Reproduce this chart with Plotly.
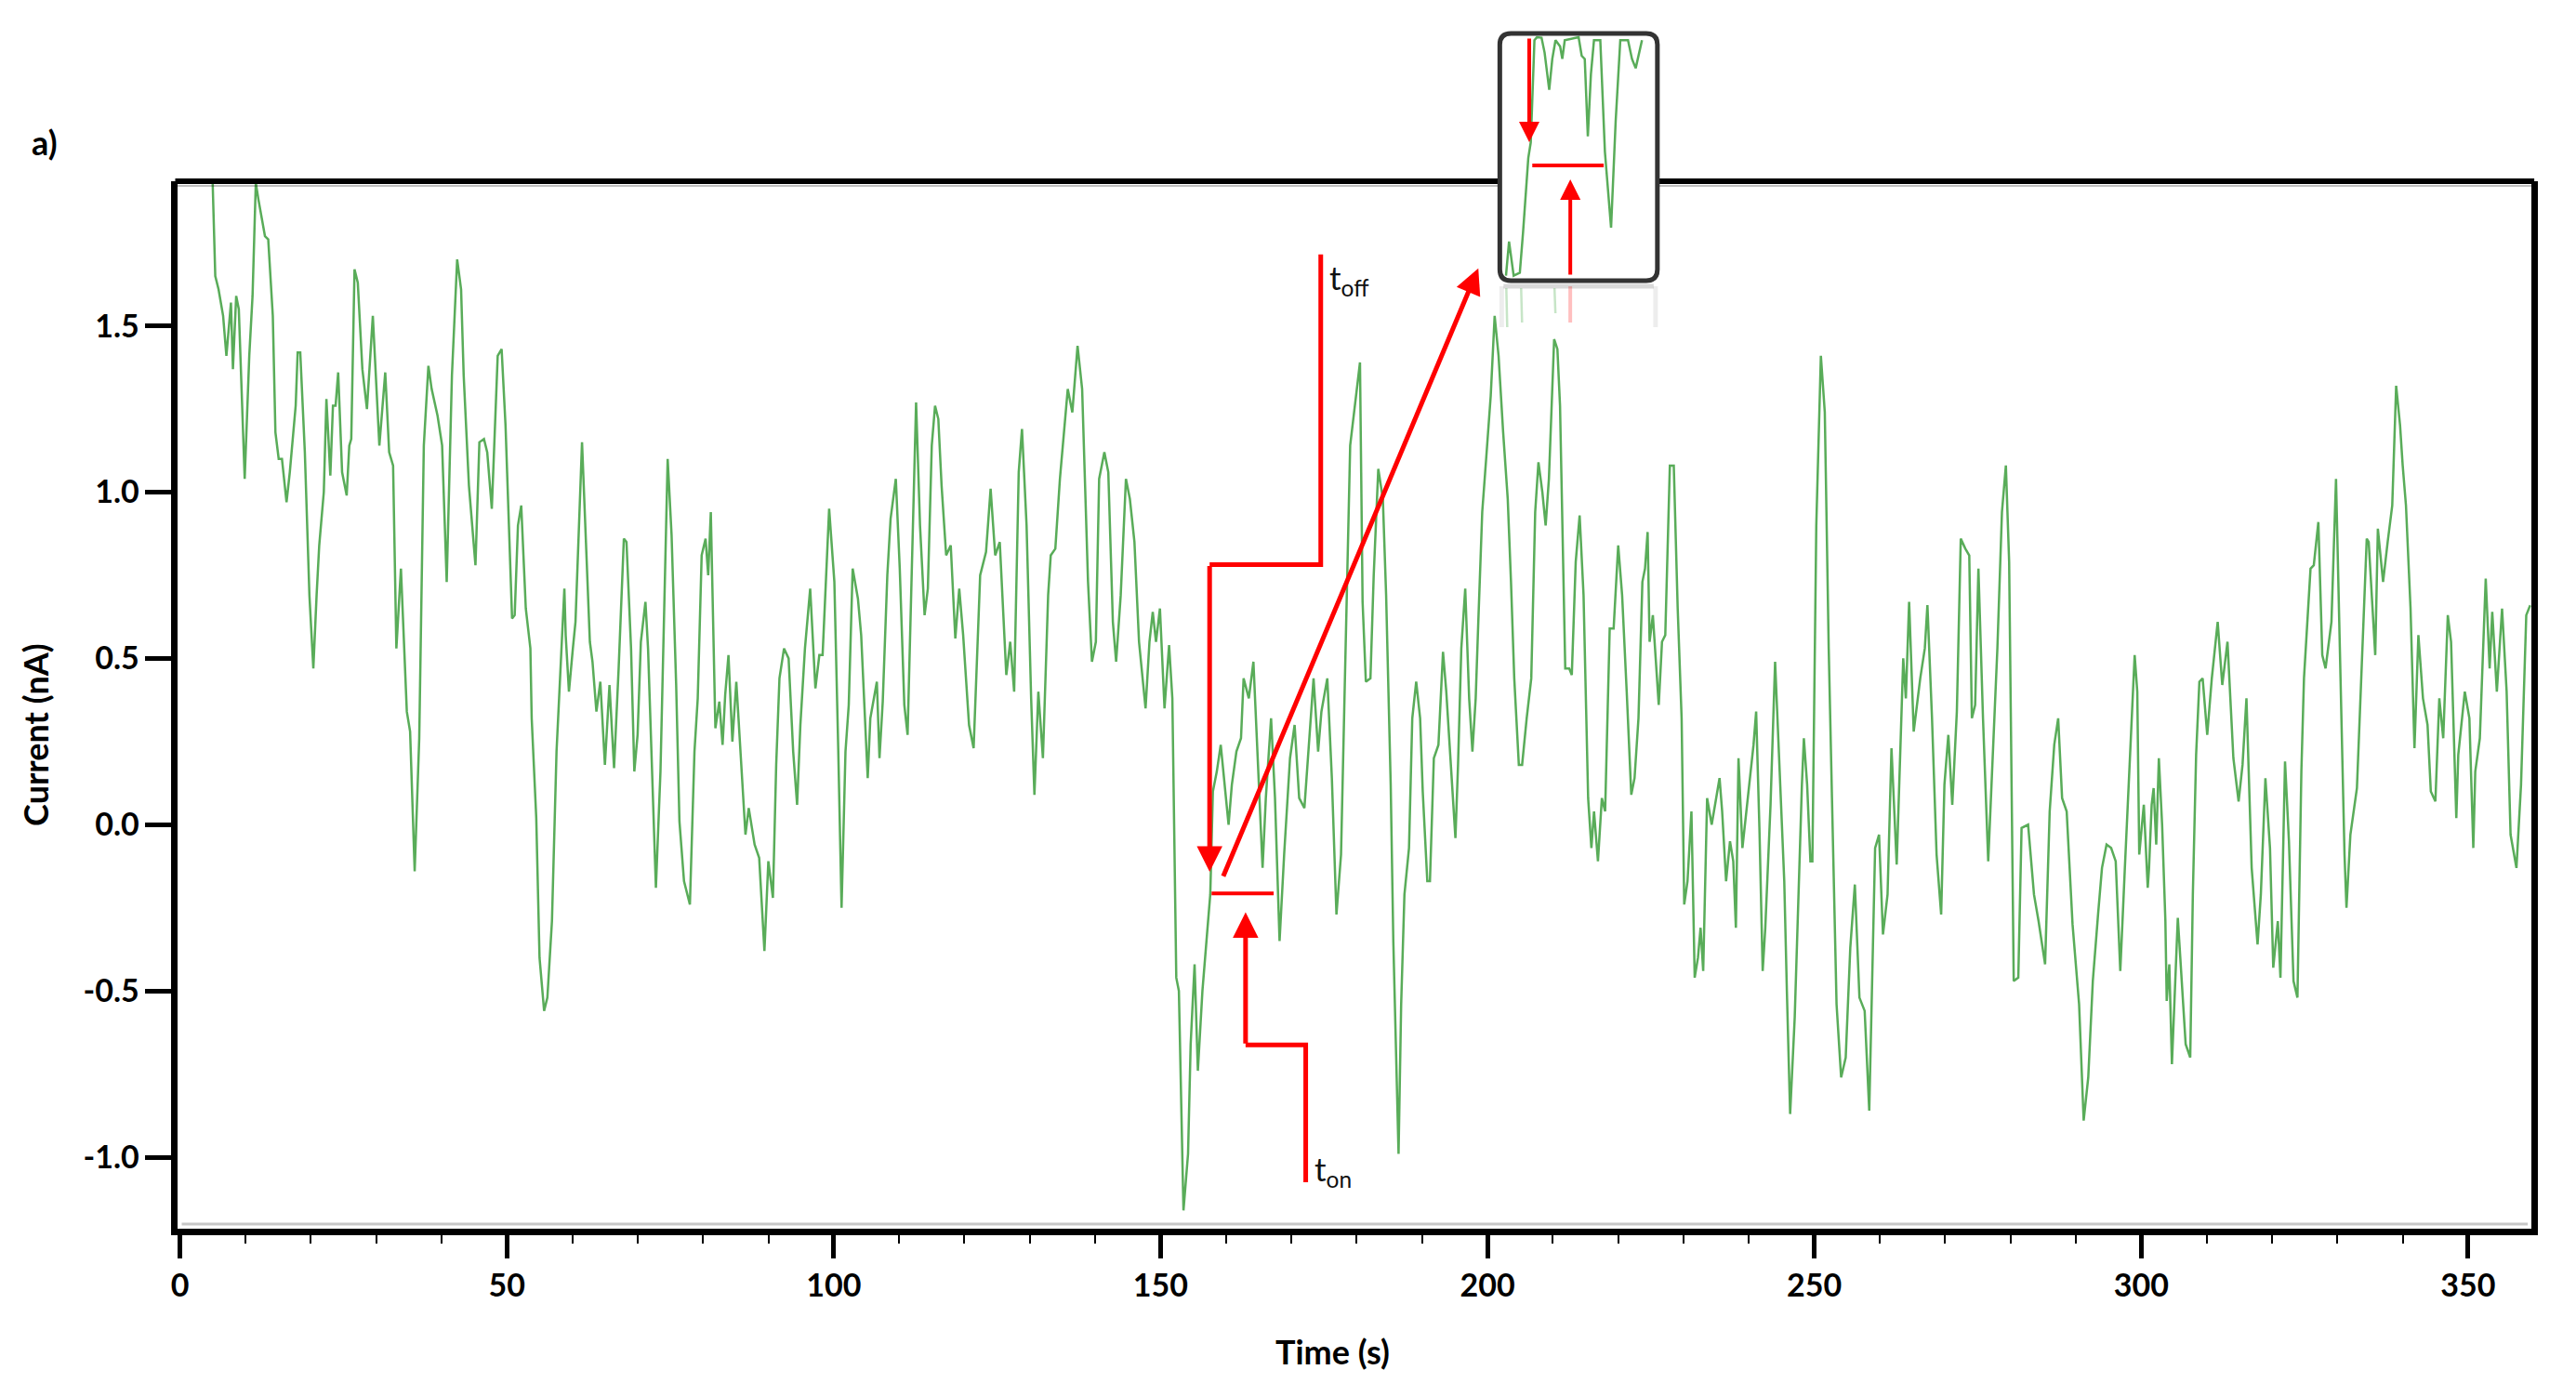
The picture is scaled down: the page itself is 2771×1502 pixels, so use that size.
import plotly.graph_objects as go

W, H = 2771, 1502          # browser window
PAGE_OFF = 8               # default body margin of the html page
FW, FH = W - 2 * PAGE_OFF, H - 2 * PAGE_OFF

# ---- current trace in six stretches ----
time_a = [5.0, 5.4, 5.9, 6.6, 7.1, 7.8, 8.1, 8.6, 9.0, 9.9, 10.6, 11.1, 11.6, 12.0, 13.0, 13.5, 14.2, 14.6, 15.1, 15.6,
          16.3, 16.8, 17.7, 18.0, 18.4, 19.1, 19.8, 20.4, 20.9, 21.3, 22.0, 22.4, 23.0, 23.4, 23.8, 24.2, 24.8, 25.5, 25.9, 26.2,
          26.7, 27.2, 27.9, 28.6, 29.5, 30.5, 31.4, 32.0, 32.6, 33.1, 33.8, 34.7, 35.2, 35.9, 36.6, 37.3, 38.0, 38.5, 39.4, 40.1,
          40.8, 41.6, 42.4, 43.0, 43.4, 44.2, 45.2, 45.8, 46.5, 47.0, 47.7, 48.6, 49.2, 49.8, 50.8, 51.2, 51.7, 52.2, 52.9, 53.6,
          53.8, 54.5, 55.0, 55.7, 56.2, 56.9, 57.6, 58.3, 58.8, 59.0, 59.5, 60.1]
curr_a = [1.93, 1.65, 1.61, 1.53, 1.41, 1.57, 1.37, 1.59, 1.55, 1.04, 1.41, 1.59, 1.93, 1.88, 1.77, 1.76, 1.53, 1.18, 1.10, 1.10,
          0.97, 1.06, 1.26, 1.42, 1.42, 1.12, 0.69, 0.47, 0.69, 0.84, 1.00, 1.28, 1.05, 1.26, 1.26, 1.36, 1.06, 0.99, 1.14, 1.16,
          1.67, 1.63, 1.37, 1.25, 1.53, 1.14, 1.36, 1.12, 1.08, 0.53, 0.77, 0.34, 0.28, -0.14, 0.26, 1.14, 1.38, 1.31, 1.23, 1.14,
          0.73, 1.35, 1.70, 1.61, 1.35, 1.02, 0.78, 1.15, 1.16, 1.12, 0.95, 1.41, 1.43, 1.20, 0.62, 0.63, 0.90, 0.96, 0.65, 0.53,
          0.32, 0.02, -0.40, -0.56, -0.52, -0.29, 0.22, 0.49, 0.71, 0.57, 0.40, 0.53]

time_b = [60.5, 61.5, 62.7, 63.1, 63.7, 64.3, 65.0, 65.7, 66.4, 67.1, 67.9, 68.3, 69.0, 69.5, 70.0, 70.5, 71.2, 71.6, 72.8, 73.5,
          74.6, 75.2, 75.9, 76.4, 77.1, 78.0, 78.7, 79.2, 79.8, 80.4, 80.8, 81.2, 81.9, 82.5, 83.0, 83.4, 83.9, 84.5, 85.1, 85.8,
          86.5, 87.0, 87.9, 88.6, 89.4, 90.0, 90.7, 91.2, 91.7, 92.4, 93.1, 93.8, 94.4, 94.9, 95.6, 96.4, 97.2, 97.8, 98.3, 99.3,
          100.1, 100.7, 101.2, 101.8, 102.3, 102.9, 103.7, 104.2, 105.2, 105.6, 106.6, 107.0, 107.5, 108.2, 108.7, 109.5, 110.1, 110.8, 111.3, 112.0,
          112.6, 113.2, 113.9, 114.4, 115.0, 115.5, 116.0, 116.5, 117.2, 117.9, 118.6, 119.2, 119.8, 120.7, 121.4]
curr_b = [0.61, 1.15, 0.55, 0.49, 0.34, 0.43, 0.18, 0.42, 0.17, 0.47, 0.86, 0.85, 0.53, 0.16, 0.27, 0.55, 0.67, 0.53, -0.19, 0.16,
          1.10, 0.87, 0.42, 0.01, -0.17, -0.24, 0.22, 0.38, 0.81, 0.86, 0.75, 0.94, 0.29, 0.37, 0.24, 0.39, 0.51, 0.25, 0.43, 0.20,
          -0.03, 0.05, -0.06, -0.10, -0.38, -0.11, -0.22, 0.18, 0.44, 0.53, 0.50, 0.22, 0.06, 0.30, 0.53, 0.71, 0.41, 0.51, 0.51, 0.95,
          0.73, 0.22, -0.25, 0.22, 0.36, 0.77, 0.68, 0.57, 0.14, 0.32, 0.43, 0.20, 0.37, 0.75, 0.92, 1.04, 0.77, 0.36, 0.27, 0.81,
          1.27, 0.90, 0.63, 0.71, 1.14, 1.26, 1.22, 1.02, 0.81, 0.84, 0.56, 0.71, 0.57, 0.30, 0.23]

time_c = [122.4, 123.3, 124.0, 124.7, 125.4, 126.4, 127.0, 127.6, 128.3, 128.8, 129.5, 130.2, 130.7, 131.3, 132.0, 132.8, 133.2, 133.9, 134.6, 135.8,
          136.5, 137.0, 137.3, 138.0, 138.4, 138.9, 139.5, 140.1, 140.6, 141.4, 142.0, 142.7, 143.2, 143.9, 144.7, 145.3, 146.0, 146.7, 147.7, 148.3,
          148.8, 149.3, 149.9, 150.6, 151.3, 151.8, 152.4, 152.8, 153.5, 154.2, 154.6, 155.2, 155.7, 156.4, 157.1, 157.6, 158.0, 158.6, 159.2, 159.7,
          160.4, 160.9, 161.6, 162.3, 162.7, 163.5, 164.2, 164.9, 165.6, 166.1, 166.9, 167.5, 168.2, 168.9, 169.8, 170.5, 171.2, 172.0, 172.7, 173.4,
          174.1, 174.6, 175.5, 176.2, 176.9, 177.6, 178.3, 179.0]
curr_c = [0.75, 0.82, 1.01, 0.81, 0.85, 0.45, 0.55, 0.40, 1.06, 1.19, 0.90, 0.38, 0.09, 0.40, 0.20, 0.69, 0.81, 0.83, 1.04, 1.31,
          1.24, 1.37, 1.44, 1.31, 1.04, 0.73, 0.49, 0.55, 1.04, 1.12, 1.06, 0.61, 0.49, 0.69, 1.04, 0.98, 0.85, 0.55, 0.35, 0.55,
          0.64, 0.55, 0.65, 0.35, 0.54, 0.38, -0.46, -0.50, -1.16, -0.99, -0.66, -0.42, -0.74, -0.50, -0.33, -0.21, 0.10, 0.16, 0.24, 0.14,
          0.00, 0.12, 0.22, 0.26, 0.44, 0.38, 0.49, 0.18, -0.13, 0.08, 0.32, 0.08, -0.35, -0.09, 0.20, 0.30, 0.08, 0.05, 0.24, 0.44,
          0.22, 0.34, 0.44, 0.14, -0.27, -0.09, 0.53, 1.14]

time_d = [180.5, 180.9, 181.4, 182.1, 182.6, 183.3, 184.0, 184.5, 185.2, 185.6, 186.4, 186.8, 187.3, 188.0, 188.5, 189.1, 189.7, 190.1, 190.8, 191.2,
          191.8, 192.5, 193.2, 193.7, 194.4, 195.1, 195.5, 196.0, 196.6, 197.2, 197.7, 198.2, 198.6, 199.2, 199.8, 200.5, 201.1, 201.7, 202.4, 203.1,
          203.6, 204.1, 204.8, 205.3, 206.0, 206.7, 207.3, 207.8, 208.4, 208.9, 209.4, 210.2, 210.7, 211.1, 211.9, 212.5, 212.9, 213.5, 214.1, 214.7,
          215.4, 215.9, 216.3, 216.9, 217.5, 218.0, 218.7, 219.3, 220.0, 220.6, 221.3, 222.0, 222.5, 223.1, 223.7, 224.1, 224.5, 224.8, 225.3, 226.2,
          226.7, 227.2, 227.9, 228.5, 229.1, 229.7, 230.1, 230.6, 231.2, 231.7, 232.2, 232.6, 233.0, 233.6, 234.3, 234.8, 235.5, 235.9, 236.5, 237.1,
          237.6, 238.0, 238.4, 239.0, 239.7]
curr_d = [1.39, 0.67, 0.43, 0.44, 0.75, 1.07, 0.98, 0.69, 0.12, -0.35, -0.99, -0.54, -0.21, -0.07, 0.32, 0.43, 0.32, 0.10, -0.17, -0.17,
          0.20, 0.24, 0.52, 0.40, 0.18, -0.04, 0.18, 0.53, 0.71, 0.38, 0.22, 0.38, 0.61, 0.94, 1.10, 1.29, 1.53, 1.41, 1.18, 0.98,
          0.73, 0.44, 0.18, 0.18, 0.32, 0.44, 0.94, 1.09, 1.00, 0.90, 1.04, 1.46, 1.43, 1.26, 0.47, 0.47, 0.45, 0.79, 0.93, 0.69,
          0.08, -0.07, 0.04, -0.11, 0.08, 0.04, 0.59, 0.59, 0.84, 0.69, 0.40, 0.09, 0.14, 0.32, 0.73, 0.77, 0.88, 0.55, 0.63, 0.36,
          0.55, 0.57, 1.08, 1.08, 0.65, 0.32, -0.24, -0.17, 0.04, -0.46, -0.40, -0.31, -0.44, 0.08, 0.00, 0.06, 0.14, 0.04, -0.17, -0.05,
          -0.11, -0.31, 0.20, -0.07, 0.06]

time_e = [240.7, 241.1, 241.6, 242.1, 242.5, 243.3, 244.0, 244.7, 245.4, 245.8, 246.3, 247.0, 247.7, 248.1, 248.4, 248.9, 249.4, 249.7, 250.3, 251.0,
          251.6, 252.2, 252.7, 253.4, 254.1, 254.8, 255.5, 256.2, 256.9, 257.7, 258.4, 258.8, 259.3, 259.9, 260.5, 261.2, 261.8, 262.6, 263.1, 263.6,
          264.0, 264.5, 265.2, 266.2, 266.9, 267.3, 268.0, 268.7, 269.4, 269.9, 270.5, 271.1, 271.8, 272.4, 273.1, 273.7, 274.1, 274.6, 275.1, 275.8,
          276.6, 277.2, 278.0, 278.7, 279.3, 279.8, 280.5, 281.2, 281.7, 282.7, 283.6, 284.3, 285.3, 286.0, 286.7, 287.3, 287.9, 288.6, 289.5, 290.5,
          291.2, 291.9, 292.6, 293.4, 294.0, 294.7, 295.4, 296.1, 296.8, 297.5, 298.4, 299.0, 299.4, 299.7, 300.4, 301.0]
curr_e = [0.24, 0.34, -0.01, -0.44, -0.31, 0.06, 0.49, 0.16, -0.17, -0.50, -0.87, -0.58, -0.09, 0.12, 0.26, 0.12, -0.11, -0.11, 0.90, 1.41,
          1.24, 0.53, 0.08, -0.54, -0.76, -0.70, -0.37, -0.18, -0.52, -0.56, -0.86, -0.50, -0.07, -0.03, -0.33, -0.21, 0.23, -0.12, 0.20, 0.50,
          0.38, 0.67, 0.28, 0.44, 0.53, 0.66, 0.32, -0.09, -0.27, 0.12, 0.27, 0.06, 0.34, 0.86, 0.83, 0.81, 0.32, 0.36, 0.77, 0.32,
          -0.11, 0.18, 0.53, 0.94, 1.08, 0.79, -0.47, -0.46, -0.01, 0.00, -0.21, -0.29, -0.42, 0.04, 0.24, 0.32, 0.08, 0.04, -0.30, -0.54,
          -0.89, -0.76, -0.47, -0.27, -0.13, -0.06, -0.07, -0.11, -0.44, -0.13, 0.24, 0.51, 0.40, -0.09, 0.06, -0.19]

time_f = [301.2, 301.6, 301.9, 302.3, 302.7, 303.2, 303.7, 303.9, 304.3, 304.7, 305.6, 306.0, 306.8, 307.5, 307.9, 308.4, 308.9, 309.4, 310.1, 310.8,
          311.7, 312.4, 313.2, 314.1, 314.9, 315.5, 316.1, 316.9, 317.8, 318.3, 319.0, 319.7, 320.2, 320.9, 321.3, 322.0, 322.6, 323.3, 323.9, 324.5,
          324.9, 325.9, 326.4, 327.1, 327.7, 328.2, 329.1, 329.8, 330.5, 331.1, 331.4, 332.0, 333.0, 333.9, 334.5, 334.8, 335.8, 336.2, 337.0, 337.7,
          338.4, 339.0, 339.6, 340.0, 340.5, 341.2, 341.8, 342.4, 343.1, 343.8, 344.3, 345.0, 345.6, 346.2, 346.9, 347.4, 348.2, 348.5, 349.5, 350.2,
          350.8, 351.1, 351.8, 352.7, 353.3, 353.7, 354.4, 355.2, 355.9, 356.5, 357.4, 358.1, 358.6, 358.9, 359.5]
curr_f = [-0.13, 0.06, 0.11, -0.06, 0.20, 0.00, -0.29, -0.53, -0.42, -0.72, -0.28, -0.40, -0.66, -0.70, -0.21, 0.21, 0.43, 0.44, 0.27, 0.44,
          0.61, 0.42, 0.55, 0.20, 0.07, 0.18, 0.38, -0.13, -0.36, -0.21, 0.14, -0.07, -0.43, -0.29, -0.46, 0.19, -0.05, -0.47, -0.52, 0.16,
          0.44, 0.77, 0.78, 0.91, 0.51, 0.47, 0.61, 1.04, 0.38, -0.09, -0.25, -0.03, 0.11, 0.57, 0.86, 0.85, 0.51, 0.89, 0.73, 0.85,
          0.96, 1.32, 1.20, 1.08, 0.96, 0.65, 0.23, 0.57, 0.38, 0.30, 0.10, 0.07, 0.38, 0.26, 0.63, 0.55, 0.02, 0.21, 0.40, 0.32,
          -0.07, 0.16, 0.26, 0.74, 0.47, 0.64, 0.40, 0.65, 0.40, -0.03, -0.13, 0.12, 0.44, 0.63, 0.66]

time_s = time_a + time_b + time_c + time_d + time_e + time_f
current_na = curr_a + curr_b + curr_c + curr_d + curr_e + curr_f
assert len(time_s) == len(current_na), (len(time_s), len(current_na))

# zoomed snapshot shown in the little box (its own 0-100 units)
inset_x = [2.8, 4.8, 7.8, 11.8, 13.9, 16.5, 17.3, 18.9, 20.5, 21.3, 22.9, 25.9, 27.9, 30.9, 32.9, 35.0, 38.0, 39.4, 41.0, 50.0,
           52.0, 54.0, 56.0, 58.0, 60.0, 64.1, 67.1, 71.1, 74.1, 77.1, 82.1, 84.7, 87.1, 89.2, 91.2]
inset_y = [1.3, 15.3, 1.3, 2.5, 19.1, 43.3, 49.6, 56.0, 84.0, 98.0, 99.2, 99.0, 92.9, 77.6, 90.3, 98.0, 95.4, 90.3, 98.0, 99.2,
           91.6, 90.3, 58.5, 84.0, 98.0, 98.0, 52.2, 21.0, 64.9, 98.0, 98.0, 90.3, 86.5, 92.9, 98.0]

x_ticks = [0, 50, 100, 150, 200, 250, 300, 350]
y_ticks = [-1.0, -0.5, 0.0, 0.5, 1.0, 1.5]
y_tick_text = ["-1.0", "-0.5", "0.0", "0.5", "1.0", "1.5"]

FONT = "Lato, 'Liberation Sans', sans-serif"
GREEN = "rgba(25,140,25,0.72)"
RED = "#ff0000"


def fx(p):  # screen pixel -> paper
    return (p - PAGE_OFF) / FW


def fy(p):
    return 1 - (p - PAGE_OFF) / FH


# plot box in screen pixels
L, R, T, B = 184, 2723, 195, 1322
# inset box in screen pixels
IL, IR, IT, IB = 1610, 1780, 36, 302

fig = go.Figure()
fig.add_trace(go.Scatter(x=time_s, y=current_na, mode="lines",
                         line=dict(color=GREEN, width=2.5), hoverinfo="skip"))
fig.add_trace(go.Scatter(x=inset_x, y=inset_y, mode="lines", xaxis="x2", yaxis="y2",
                         line=dict(color=GREEN, width=2.5), hoverinfo="skip"))

tick_font = dict(family=FONT, size=34, color="black", weight="bold")

fig.update_layout(
    width=FW, height=FH,
    margin=dict(l=0, r=0, t=0, b=0),
    paper_bgcolor="white", plot_bgcolor="white",
    showlegend=False,
    xaxis=dict(domain=[fx(L), fx(R)], range=[-0.3, 359.7], tickmode="array", tickvals=x_ticks,
               ticks="outside", ticklen=25, tickwidth=5, tickcolor="black",
               minor=dict(tickmode="linear", tick0=0, dtick=10, ticks="outside", ticklen=9, tickwidth=2, tickcolor="black"),
               showline=True, linewidth=7, linecolor="black", mirror=False,
               showgrid=False, zeroline=False, tickfont=tick_font),
    yaxis=dict(domain=[fy(B), fy(T)], range=[-1.215, 1.935], tickmode="array", tickvals=y_ticks, ticktext=y_tick_text,
               ticks="outside", ticklen=28, tickwidth=5, tickcolor="black",
               showline=True, linewidth=7, linecolor="black", mirror=True,
               showgrid=False, zeroline=False, tickfont=tick_font),
    xaxis2=dict(domain=[fx(IL + 2), fx(IR - 2)], range=[0, 100], visible=False, anchor="y2"),
    yaxis2=dict(domain=[fy(IB - 2), fy(IT + 2)], range=[0, 100], visible=False, anchor="x2"),
)

shapes = []
# top frame, broken where the inset sits
for a, b in [(L - 3, IL), (IR, R + 3)]:
    shapes.append(dict(type="line", xref="paper", yref="paper", x0=fx(a), x1=fx(b), y0=fy(T), y1=fy(T),
                       line=dict(color="black", width=6)))
    shapes.append(dict(type="line", xref="paper", yref="paper", x0=fx(a), x1=fx(b), y0=fy(T + 5), y1=fy(T + 5),
                       line=dict(color="rgba(0,0,0,0.25)", width=2)))
# soft grey edge along the bottom axis
shapes.append(dict(type="line", xref="paper", yref="paper", x0=fx(L + 4), x1=fx(R - 4), y0=fy(B - 5), y1=fy(B - 5),
                   line=dict(color="rgba(0,0,0,0.22)", width=3)))

# rounded inset frame
rx, ry = 12 / FW, 12 / FH
x0, x1, y0, y1 = fx(IL), fx(IR), fy(IB), fy(IT)
shapes.append(dict(
    type="path", xref="paper", yref="paper",
    path=(f"M {x0 + rx},{y0} L {x1 - rx},{y0} Q {x1},{y0} {x1},{y0 + ry} L {x1},{y1 - ry} "
          f"Q {x1},{y1} {x1 - rx},{y1} L {x0 + rx},{y1} Q {x0},{y1} {x0},{y1 - ry} "
          f"L {x0},{y0 + ry} Q {x0},{y0} {x0 + rx},{y0} Z"),
    line=dict(color="#333333", width=5), layer="above"))

# faded reflection under the inset
shapes.append(dict(type="line", xref="paper", yref="paper", x0=fx(IL + 4), x1=fx(IR - 4), y0=fy(IB + 6), y1=fy(IB + 6),
                   line=dict(color="rgba(0,0,0,0.15)", width=5)))
for xp in (IL + 2, IR - 2):
    shapes.append(dict(type="line", xref="paper", yref="paper", x0=fx(xp), x1=fx(xp), y0=fy(IB + 6), y1=fy(IB + 50),
                       line=dict(color="rgba(0,0,0,0.07)", width=5)))
shapes.append(dict(type="line", xref="paper", yref="paper", x0=fx(1686), x1=fx(1686), y0=fy(IB + 6), y1=fy(IB + 45),
                   line=dict(color="rgba(255,0,0,0.25)", width=4)))
for xp, yl in [(1617, 50), (1633, 45), (1669, 35)]:
    shapes.append(dict(type="line", xref="paper", yref="paper", x0=fx(xp), x1=fx(xp + 1), y0=fy(IB + 8), y1=fy(IB + yl),
                       line=dict(color="rgba(30,150,30,0.25)", width=2.5)))

# t_off / t_on brackets in the main plot
shapes.append(dict(type="path", xref="x", yref="y", path="M 174.5,1.715 L 174.5,0.782 L 157.5,0.782",
                   line=dict(color=RED, width=5)))
shapes.append(dict(type="path", xref="x", yref="y", path="M 172.2,-1.075 L 172.2,-0.662 L 163.0,-0.662",
                   line=dict(color=RED, width=5)))
shapes.append(dict(type="line", xref="x", yref="y", x0=157.8, x1=167.3, y0=-0.207, y1=-0.207,
                   line=dict(color=RED, width=4)))
# red bar inside the inset
shapes.append(dict(type="line", xref="x2", yref="y2", x0=19.9, x1=66.3, y0=46.6, y1=46.6,
                   line=dict(color=RED, width=4)))

annotations = []


def arrow(x, y, ax, ay, xr="x", yr="y", w=5):
    return dict(x=x, y=y, ax=ax, ay=ay, xref=xr, yref=yr, axref=xr, ayref=yr, text="",
                showarrow=True, arrowhead=2, arrowsize=1.1, arrowwidth=w, arrowcolor=RED)


annotations.append(arrow(157.5, -0.142, 157.5, 0.782))
annotations.append(arrow(163.0, -0.263, 163.0, -0.662))
annotations.append(arrow(198.6, 1.673, 159.5, -0.159))
annotations.append(arrow(17.9, 56.1, 17.9, 99.2, "x2", "y2", 4))
annotations.append(arrow(44.6, 40.8, 44.6, 1.1, "x2", "y2", 4))

lbl_font = dict(family=FONT, size=35, color="#111111")
annotations.append(dict(x=175.6, y=1.64, xref="x", yref="y", text="t<sub>off</sub>", showarrow=False,
                        xanchor="left", yanchor="middle", font=lbl_font))
annotations.append(dict(x=173.2, y=-1.04, xref="x", yref="y", text="t<sub>on</sub>", showarrow=False,
                        xanchor="left", yanchor="middle", font=lbl_font))

title_font = dict(family=FONT, size=36, color="black", weight="bold")
annotations.append(dict(x=fx(1430), y=fy(1454), xref="paper", yref="paper", text="Time (s)", showarrow=False,
                        xanchor="center", yanchor="middle", font=title_font))
annotations.append(dict(x=fx(30), y=fy(790), xref="paper", yref="paper", text="Current (nA)", showarrow=False,
                        textangle=-90, xanchor="center", yanchor="middle", font=title_font))
annotations.append(dict(x=fx(40), y=fy(153), xref="paper", yref="paper", text="a)", showarrow=False,
                        xanchor="center", yanchor="middle", font=title_font))

fig.update_layout(shapes=shapes, annotations=annotations)

fig.write_html("out.html")
